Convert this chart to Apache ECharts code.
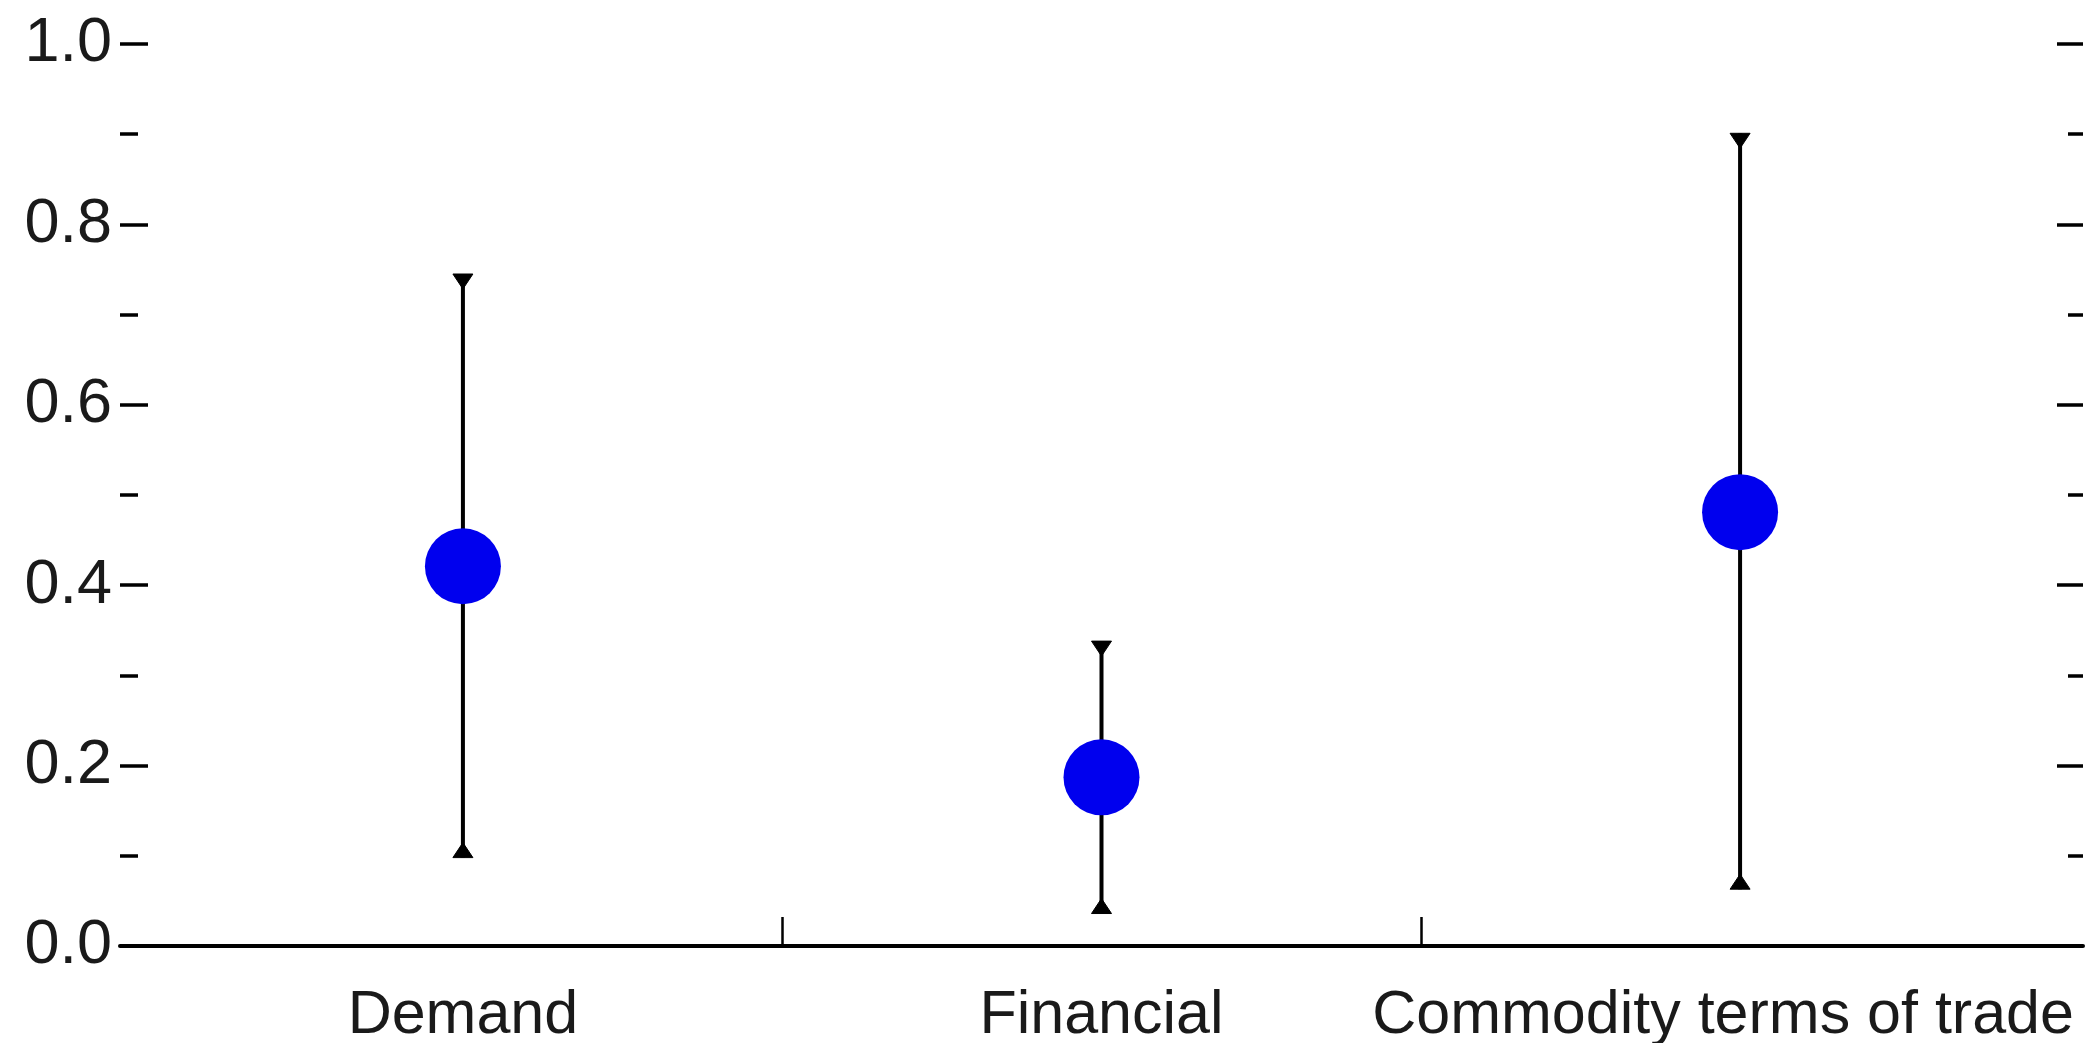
<!DOCTYPE html>
<html>
<head>
<meta charset="utf-8">
<title>Estimates with confidence bands</title>
<script src="https://cdn.jsdelivr.net/npm/echarts@6/dist/echarts.min.js"></script>
<style>
  html, body { margin: 0; padding: 0; background: #ffffff; }
  #chart { width: 2085px; height: 1043px; }
</style>
</head>
<body>
<div id="chart"></div>
<script>
// Shock categories along the horizontal axis
const categories = ['Demand', 'Financial', 'Commodity terms of trade'];
// Point estimates and the ends of their bands
const estimates = [0.421, 0.187, 0.481];
const lowerBand = [0.098, 0.036, 0.063];
const upperBand = [0.745, 0.338, 0.901];
// Vertical axis range and ticks
const yMin = 0.0;
const yMax = 1.0;
const yStep = 0.2;
// Category boundaries marked on the baseline
const boundaryTicks = [0.5, 1.5];

const FONT = '"Liberation Sans", Arial, sans-serif';

const chart = echarts.init(document.getElementById('chart'), null, { renderer: 'canvas' });

const pointData = categories.map((c, i) => [i, estimates[i]]);
const bandData = categories.map((c, i) => [i, lowerBand[i], upperBand[i]]);

function renderBand(params, api) {
  const x = api.value(0);
  const lo = api.coord([x, api.value(1)]);
  const hi = api.coord([x, api.value(2)]);
  const hw = 10, th = 15;
  const style = { fill: '#000', stroke: '#000', lineWidth: 1 };
  return {
    type: 'group',
    children: [
      {
        type: 'line',
        shape: { x1: hi[0], y1: hi[1], x2: lo[0], y2: lo[1] },
        style: { stroke: '#000', lineWidth: 4 }
      },
      {
        type: 'polygon',
        shape: { points: [[hi[0] - hw, hi[1]], [hi[0] + hw, hi[1]], [hi[0], hi[1] + th]] },
        style: style
      },
      {
        type: 'polygon',
        shape: { points: [[lo[0] - hw, lo[1]], [lo[0] + hw, lo[1]], [lo[0], lo[1] - th]] },
        style: style
      }
    ]
  };
}

// The last category name sits a little left of its point so it fits the frame
function categoryLabel(v) {
  const i = Math.round(v);
  return i === categories.length - 1 ? '{last|' + categories[i] + '}' : categories[i];
}

const yAxisCommon = {
  type: 'value',
  min: yMin,
  max: yMax,
  interval: yStep,
  axisLine: { show: false, onZero: false },
  splitLine: { show: false },
  minorSplitLine: { show: false }
};

chart.setOption({
  animation: false,
  backgroundColor: '#ffffff',
  grid: { left: 120, right: 2, top: 44, bottom: 97, outerBoundsMode: 'none', containLabel: false },
  xAxis: {
    type: 'value',
    min: -0.537,
    max: 2.537,
    splitLine: { show: false },
    axisLine: { show: true, onZero: false, lineStyle: { color: '#000', width: 4 } },
    axisTick: {
      show: true,
      inside: true,
      length: 29,
      customValues: boundaryTicks,
      lineStyle: { color: '#000', width: 2.5 }
    },
    axisLabel: {
      show: true,
      customValues: categories.map((c, i) => i),
      formatter: categoryLabel,
      margin: 40,
      color: '#1a1a1a',
      fontFamily: FONT,
      fontSize: 61,
      hideOverlap: false,
      rich: {
        last: { fontFamily: FONT, fontSize: 61, color: '#1a1a1a', padding: [0, 34, 0, 0] }
      }
    }
  },
  yAxis: [
    Object.assign({}, yAxisCommon, {
      position: 'left',
      axisTick: { show: true, inside: true, length: 28, lineStyle: { color: '#000', width: 3.5 } },
      minorTick: { show: true, splitNumber: 2, length: 18, lineStyle: { color: '#000', width: 3.5 } },
      axisLabel: {
        show: true,
        margin: 8,
        formatter: v => v.toFixed(1),
        color: '#1a1a1a',
        fontFamily: FONT,
        fontSize: 63,
        padding: [20, 0, 0, 0]
      }
    }),
    Object.assign({}, yAxisCommon, {
      position: 'right',
      axisTick: { show: true, inside: true, length: 26, lineStyle: { color: '#000', width: 3.5 } },
      minorTick: { show: true, splitNumber: 2, length: 15, lineStyle: { color: '#000', width: 3.5 } },
      axisLabel: { show: false }
    })
  ],
  series: [
    {
      type: 'custom',
      name: 'band',
      renderItem: renderBand,
      data: bandData,
      encode: { x: 0, y: [1, 2] },
      z: 2
    },
    {
      type: 'scatter',
      name: 'estimate',
      data: pointData,
      symbol: 'circle',
      symbolSize: 76,
      itemStyle: { color: '#0000ee', opacity: 1 },
      z: 5
    }
  ]
});
</script>
</body>
</html>
